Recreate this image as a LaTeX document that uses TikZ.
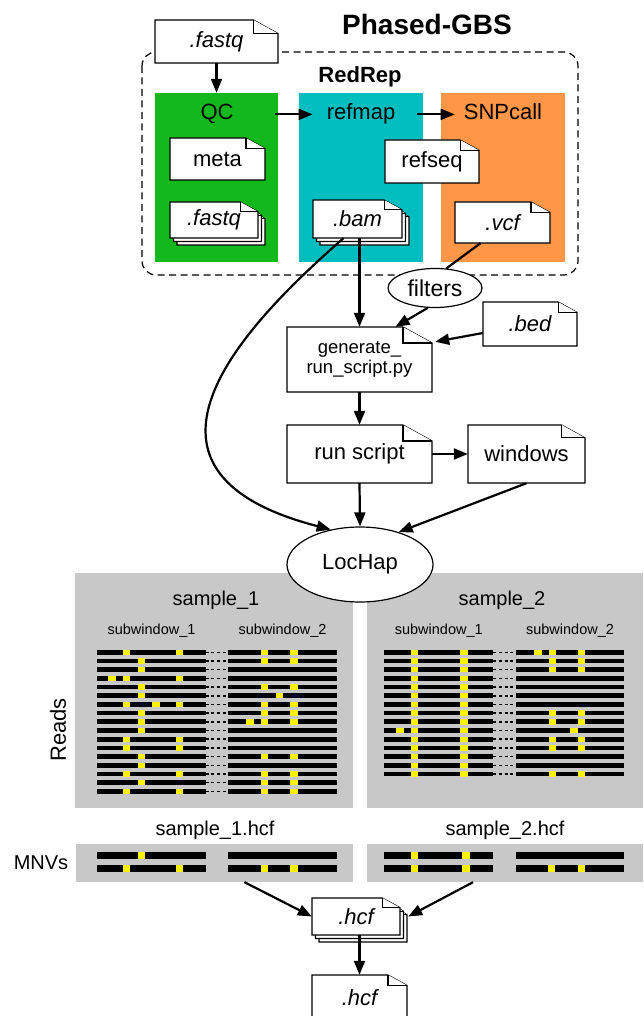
\documentclass[tikz,border=0pt]{standalone}
\usepackage{fontspec}
\setmainfont{Liberation Sans}
\usetikzlibrary{calc}
\usetikzlibrary{arrows.meta}
\usetikzlibrary{shapes.geometric}

\definecolor{qcgreen}{RGB}{18,184,28}
\definecolor{mapcyan}{RGB}{0,190,192}
\definecolor{snporange}{RGB}{255,150,72}
\definecolor{panelgray}{RGB}{200,200,200}
\definecolor{snpyellow}{RGB}{255,242,0}

\newcommand{\fsize}[1]{\fontsize{#1}{#1}\selectfont}

\tikzset{
	docline/.style={draw=black, fill=white, line width=1.1pt},
	docnode/.style={inner sep=0pt, align=center, font=\fsize{22}},
	stage/.style={inner sep=0pt, minimum height=169pt},
	stagelabel/.style={anchor=base, inner sep=0pt, font=\fsize{22}},
	panel/.style={fill=panelgray, inner sep=0pt},
	flow/.style={line width=2.2pt, -{Triangle[length=14pt,width=11pt]}},
	link/.style={line width=2.2pt},
	redrep/.style={line width=1.2pt, dash pattern=on 7pt off 4.5pt, rounded corners=14pt},
	bubble/.style={ellipse, draw, fill=white, line width=1.2pt, inner sep=0pt, font=\fsize{22}},
	gapdash/.style={line width=1.5pt, dash pattern=on 3pt off 2.7pt}
}

% sheet with a folded corner: left, top, right, bottom
\newcommand{\docsheet}[4]{%
	\pgfmathsetmacro{\foldw}{0.2*((#3)-(#1))}%
	\pgfmathsetmacro{\foldh}{0.55*\foldw}%
	\path[docline] (#1,#2) -- ({(#3)-\foldw},#2) -- (#3,{(#2)+\foldh}) -- (#3,#4) -- (#1,#4) -- cycle;
	\path[docline] ({(#3)-\foldw},#2) -- ({(#3)-\foldw},{(#2)+\foldh}) -- (#3,{(#2)+\foldh});
}

% file: [node options] name, left, top, right, bottom, text
\newcommand{\filedoc}[7][]{%
	\docsheet{#3}{#4}{#5}{#6}
	\node[docnode, minimum width={(#5)-(#3)}, minimum height={(#6)-(#4)}, #1] (#2) at ({((#3)+(#5))/2},{((#4)+(#6))/2}) {#7};
}

% pile of three files
\newcommand{\filestack}[6]{%
	\docsheet{#2+7}{#3+7}{#4+7}{#5+7}
	\docsheet{#2+3.5}{#3+3.5}{#4+3.5}{#5+3.5}
	\filedoc{#1}{#2}{#3}{#4}{#5}{#6}
}

% reads of one sample: top row, left bar from/to, right bar from/to, SNPs of each row
\newcommand{\readblock}[6]{%
	\foreach \snps [count=\rowi from 0] in {#6}{
		\pgfmathsetmacro{\rowy}{#1+8.69*\rowi}
		\fill (#2,\rowy-2.35) rectangle (#3,\rowy+2.35);
		\fill (#4,\rowy-2.35) rectangle (#5,\rowy+2.35);
		\draw[gapdash] (#3,\rowy) -- (#4,\rowy);
		\foreach \snp in \snps
			\fill[snpyellow] (\snp-3.6,\rowy-2.7) rectangle (\snp+3.6,\rowy+2.7);
	}
}

% one haplotype: y, left bar from/to, right bar from/to, SNPs
\newcommand{\hapline}[6]{%
	\fill (#2,#1-3.65) rectangle (#3,#1+3.65);
	\fill (#4,#1-3.65) rectangle (#5,#1+3.65);
	\foreach \snp in {#6}
		\fill[snpyellow] (\snp-3.65,#1-3.65) rectangle (\snp+3.65,#1+3.65);
}

\begin{document}
\begin{tikzpicture}[x=1pt, y=-1pt]

	\useasboundingbox (0,0) rectangle (643,1016);

% RedRep block.

	\node[font=\bfseries\fsize{28}] (title) at (427,24) {Phased-GBS};

	\draw[redrep] (142,52) rectangle (578,275);
	\node[font=\bfseries\fsize{22}] (redrep) at (360,77) {RedRep};

	%stages
	\node[stage, fill=qcgreen, minimum width=123] (qcbox) at (216.5,177.5) {};
	\node[stage, fill=mapcyan, minimum width=124] (mapbox) at (361,177.5) {};
	\node[stage, fill=snporange, minimum width=124] (snpbox) at (503,177.5) {};

	\node[stagelabel] (qc) at (217,120) {QC};
	\node[stagelabel] (refmap) at (361,120) {refmap};
	\node[stagelabel] (snpcall) at (503,120) {SNPcall};

	%files
	\filedoc{fastqin}{155}{20}{278}{63}{\itshape .fastq}
	\filedoc{meta}{170}{138}{265}{180}{meta}
	\filestack{fastq}{170}{202}{258}{238}{\itshape .fastq}
	\filestack{bam}{313}{200}{402}{238}{\itshape .bam}
	\filedoc{refseq}{385}{140}{479}{183}{refseq}
	\filedoc{vcf}{455}{202}{550}{243}{\itshape .vcf}

	\draw[flow] (fastqin.south) -- (qcbox.north);
	\draw[flow] ($(qcbox.east |- qc.center)+(-3,0)$) -- ($(refmap.west |- qc.center)+(-14,0)$);
	\draw[flow] ($(mapbox.east |- qc.center)+(-6,0)$) -- ($(snpcall.west |- qc.center)+(-9,0)$);

% Windows and LocHap.

	\node[bubble, minimum width=94, minimum height=39, font=\fsize{23}] (filters) at (435,288) {filters};

	\filedoc[font=\fontsize{18.5}{20.5}\selectfont]{genpy}{287}{327}{432}{392}{generate\_\\run\_script.py}
	\filedoc{bed}{483}{302}{577}{346}{\itshape .bed}
	\filedoc{runscript}{287}{425}{432}{483}{run script}
	\filedoc{windows}{468}{425}{585}{483}{windows}

	%sample panels
	\node[panel, minimum width=278, minimum height=235] (readone) at (214,690.5) {};
	\node[panel, minimum width=276, minimum height=235] (readtwo) at (505,690.5) {};

	\node[bubble, minimum width=146, minimum height=75] (lochap) at (360,564.5) {LocHap};

	\draw[link] ($(vcf.south)+(-22,0)$) -- (filters.60);
	\draw[flow] (filters.250) -- ($(genpy.north)+(36,0)$);
	\draw[flow] ($(bed.west)+(0,9)$) -- ($(genpy.north east)+(3,15)$);
	\draw[flow] (bam.south -| genpy.north) -- (genpy.north);
	\draw[flow] ($(bam.south)+(-14,0)$) .. controls (250,320) and (100,470) .. (lochap.130);
	\draw[flow] (genpy.south) -- (runscript.north);
	\draw[flow] (runscript.east) -- (windows.west);
	\draw[flow] (runscript.south) -- (lochap.north);
	\draw[flow] (windows.south) -- (lochap.40);

% Reads.

	\node[font=\fsize{20}] (sampleone) at (216,600) {sample\_1};
	\node[font=\fsize{20}] (sampletwo) at (502,600) {sample\_2};
	\node[font=\fsize{14.5}] (subone) at (151.5,631) {subwindow\_1};
	\node[font=\fsize{14.5}] (subtwo) at (282.5,631) {subwindow\_2};
	\node[font=\fsize{14.5}] (subthree) at (438.8,631) {subwindow\_1};
	\node[font=\fsize{14.5}] (subfour) at (570,631) {subwindow\_2};
	\node[font=\fsize{22}, rotate=90] (reads) at (58,730) {Reads};

	\readblock{652.3}{97.3}{205.7}{228.3}{336.7}{
		{126.7,179.3,264.7,294}, {141.5,264.7,294}, {141.5}, {112,126.7,179.3},
		{141.5,264.7,294}, {141.5,279.3}, {126.7,156,179.3,264.7,294}, {141.5,264.7,294},
		{141.5,250,264.7,294}, {141.5}, {126.7,179.3}, {126.7,179.3},
		{141.5,264.7,294}, {141.5}, {126.7,179.3,264.7,294}, {141.5,264.7,294},
		{126.7,179.3,264.7,294}}

	\readblock{652.3}{384.3}{493.3}{515.7}{624.3}{
		{414.3,464,538,552.3,581.3}, {414.3,464,552.3,581.3}, {414.3,464,552.3,581.3},
		{414.3,464}, {414.3,464}, {414.3,464}, {414.3,464},
		{414.3,464,552.3,581.3}, {414.3,464,552.3,581.3}, {400,414.3,464,574},
		{414.3,464,552.3,581.3}, {414.3,464,552.3,581.3}, {414.3,464}, {414.3,464},
		{414.3,464,552.3,581.3}}

% Haplotypes.

	\node[font=\fsize{20}] (hcfone) at (215,830) {sample\_1.hcf};
	\node[font=\fsize{20}] (hcftwo) at (505,830) {sample\_2.hcf};
	\node[font=\fsize{20}] (mnvs) at (41,862.5) {MNVs};

	\node[panel, minimum width=277, minimum height=38] (mnvone) at (214.5,863) {};
	\node[panel, minimum width=276, minimum height=38] (mnvtwo) at (505,863) {};

	\hapline{855.3}{97.3}{205.7}{228.3}{336.7}{141.5}
	\hapline{868.7}{97.3}{205.7}{228.3}{336.7}{126.7,179.3,264.7,294}
	\hapline{855.3}{384.3}{493.3}{515.7}{624.3}{414.3,466}
	\hapline{868.7}{384.3}{493.3}{515.7}{624.3}{414.3,466,551.7,581.5}

	\filestack{hcf}{312}{898}{400}{935}{\itshape .hcf}
	\filedoc{hcfout}{312}{975}{407}{1020}{\itshape .hcf}

	\draw[flow] ($(mnvone.south)+(30,0)$) -- (hcf.west);
	\draw[flow] ($(mnvtwo.south)+(-32,0)$) -- ($(hcf.east)+(8,0)$);
	\draw[flow] (hcf.south -| hcfout.north) -- (hcfout.north);

\end{tikzpicture}
\end{document}
